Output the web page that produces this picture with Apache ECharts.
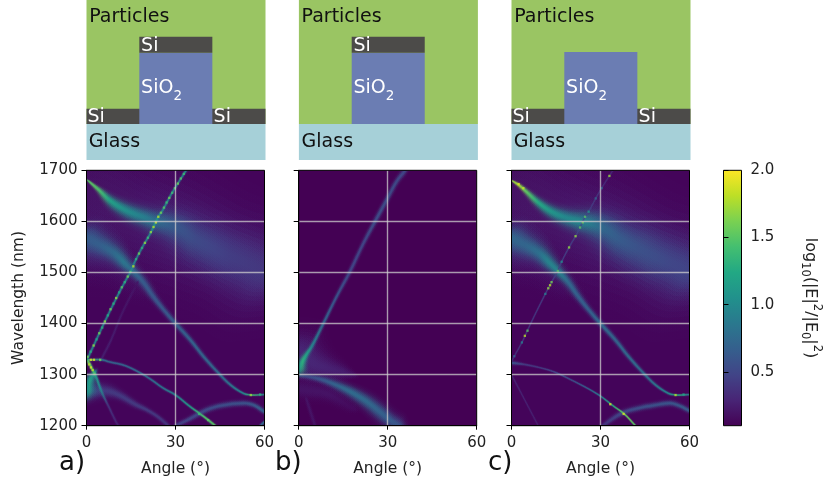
<!DOCTYPE html>
<html><head><meta charset="utf-8">
<script src="https://cdn.jsdelivr.net/npm/echarts@6/dist/echarts.min.js"></script>
<style>html,body{margin:0;padding:0;background:#fff}#c{width:830px;height:488px}</style>
</head><body><div id="c"></div>
<script>
// Read-off bands: [angle deg, wavelength nm, band width nm, log10 enhancement]
const a_hazeUp=[[0,1645,170,0.2],[15,1612,150,0.22],[30,1580,140,0.27],[45,1540,130,0.3],[60,1500,130,0.3]];
const a_hazeLow=[[0,1560,80,0.28],[12,1518,55,0.22],[20,1470,35,0.16]];
const a_upper=[[0.9,1678,4,1.5],[2.5,1670,6,1.5],[4.3,1661,9,1.45],[7.7,1642,16,1.2],[11,1629,21,1.1],[15.6,1616,26,1.0],[20,1607,30,0.9],[23,1601,35,0.8],[27,1596,42,0.7],[31.5,1586,50,0.6],[37,1564,60,0.52],[43,1547,66,0.48],[48.5,1531,70,0.44],[54,1518,70,0.42],[60,1502,70,0.4]];
const a_second=[[0,1567,42,0.65],[4.5,1554,38,0.68],[9,1539,30,0.75],[12.4,1521,24,0.85],[15.8,1502,18,0.75],[19,1482,15,0.65],[22.5,1453,12,0.62],[26,1427,10,0.62],[30,1400,9,0.68],[35,1368,8,0.7],[39.5,1335,7,0.72],[44,1306,6,0.75],[48.5,1280,5,0.85],[53,1263,4,1.0],[56,1260,3,1.4],[60,1261,3,0.9]];
const a_diag=[[0,1327,4,0.95],[2.9,1363,4,0.95],[6.2,1404,4,0.95],[10.8,1458,4,0.95],[12.9,1481,4,0.95],[15,1503,4,0.95],[16.3,1521,4,0.95],[18.8,1549,4,0.95],[21,1571,4,0.95],[22.5,1588,4,1.05],[24.2,1609,4,1.05],[25.4,1619,4,0.95],[27.8,1645,4,0.95],[29.8,1665,4,0.95],[32.4,1689,4,0.95],[33.6,1700,4,0.95]];
const a_arc=[[0,1329,3,1.5],[5,1329,4,0.85],[7.7,1325,4,0.72],[13.3,1317,4,0.72],[20,1297,4,0.78],[26,1273,4,0.85],[30,1260,4,0.95],[35,1237,4,1.15],[39.5,1218,4,1.45],[43.4,1200,4,1.5]];
const a_steep=[[0.5,1327,5,1.6],[2.1,1309,5,1.45],[3.2,1296,5,1.1],[4.9,1270,5,0.95],[7.1,1242,4,0.4],[10.2,1205,4,0.28],[10.8,1200,4,0.26]];
const a_spot=[[0,1268,26,0.95],[0.95,1286,22,1.2],[2.6,1302,10,1.0]];
const a_faint=[[4.9,1329,4,0.25],[8.3,1368,4,0.25],[12,1420,4,0.22],[17,1478,4,0.2]];
const a_lowArc=[[0,1268,26,0.42],[6.8,1268,20,0.42],[11,1260,14,0.42],[16.7,1241,10,0.42],[20,1232,8,0.42],[23.7,1219,7,0.4],[27.6,1200,6,0.38]];
const a_rightArc=[[30,1200,6,0.45],[35,1214,8,0.5],[40.5,1231,9,0.52],[46,1240,9,0.55],[53,1244,9,0.58],[56.5,1240,8,0.62],[60,1227,7,0.7]];
const a_corner=[[58.6,1200,4,0.75],[60,1208,4,0.8]];
const a_dots=[[0.4,1335,1.6],[1.4,1345,1.3],[2.4,1357,1.7],[3.4,1369,1.2],[4.3,1381,1.6],[5.3,1392,1.3],[6.2,1404,1.7],[7.2,1416,1.25],[8.1,1428,1.6],[9.1,1439,1.3],[10,1450,1.7],[11,1461,1.2],[11.9,1471,1.5],[12.9,1481,1.3],[13.9,1492,1.6],[14.8,1501,1.5],[15.8,1512,1.8],[16.7,1526,1.3],[17.7,1537,1.6],[18.7,1548,1.3],[19.7,1558,1.7],[20.7,1568,1.4],[21.7,1579,1.7],[22.6,1589,1.8],[23.4,1598,1.9],[24.2,1609,1.8],[25.1,1617,1.6],[26.1,1627,1.5],[27,1637,1.4],[27.9,1646,1.6],[28.9,1656,1.4],[29.8,1665,1.5],[30.8,1674,1.6],[31.8,1684,1.5],[32.8,1693,1.4],[1.5,1329,1.9],[2.5,1329,1.9],[4.6,1329,1.6],[55.4,1260,1.7],[58.5,1261,1.3],[0.9,1320,1.8],[1.5,1314,1.9],[2.1,1309,1.8],[2.7,1302,1.5],[41,1211,1.5],[38,1223,1.4]];

const b_main=[[0,1312,22,1.1],[1.3,1326,14,1.3],[2.5,1338,9,1.2],[4.4,1355,7,0.95],[8.3,1400,6,0.72],[12.8,1453,6,0.6],[17.3,1502,7,0.5],[21.8,1557,7,0.5],[26.3,1606,8,0.55],[30.2,1648,8,0.55],[33,1678,8,0.52],[35.8,1699,8,0.5]];
const b_halo=[[0,1345,70,0.3],[5,1322,55,0.3],[10,1312,38,0.28],[15,1305,22,0.25],[18,1300,12,0.2]];
const b_lower=[[0,1299,7,0.45],[6,1293,10,0.58],[11.7,1282,14,0.7],[17.3,1267,18,0.78],[23,1247,22,0.75],[27.4,1227,24,0.7],[30.8,1211,24,0.65],[33.6,1200,24,0.6]];
const b_under=[[0,1272,26,0.2],[10,1262,22,0.2],[18,1235,14,0.15]];
const b_faint=[[2.7,1250,5,0.2],[5.5,1200,5,0.2]];

const c_hazeUp=[[0,1645,170,0.2],[15,1612,150,0.22],[30,1580,140,0.27],[45,1540,130,0.3],[60,1500,130,0.3]];
const c_hazeLow=[[0,1560,80,0.28],[12,1518,55,0.22],[20,1470,35,0.16]];
const c_upper=[[0.9,1677,4,1.7],[2.5,1671,6,1.75],[4.5,1661,8,1.55],[9,1637,14,1.25],[13.5,1619,20,1.1],[18,1608,26,1.0],[22.5,1601,32,1.0],[27,1596,40,0.88],[31.5,1586,48,0.72],[37,1564,58,0.64],[43,1547,66,0.58],[48.5,1531,70,0.54],[54,1518,70,0.5],[60,1502,70,0.48]];
const c_second=[[0,1567,42,0.72],[4.5,1554,38,0.72],[9,1539,30,0.8],[12.4,1521,24,0.95],[15.8,1502,18,0.95],[19,1482,15,0.75],[22.5,1453,12,0.68],[26,1427,10,0.68],[30,1400,9,0.75],[35,1368,8,0.72],[39.5,1335,7,0.75],[44,1306,6,0.78],[48.5,1280,5,0.85],[53,1263,4,1.0],[56,1260,3,1.3],[60,1261,3,0.9]];
const c_diag=[[0,1325,2.5,0.35],[0.95,1336,2.5,0.35],[3.5,1363,2.5,0.4],[6.8,1404,2.5,0.4],[11.4,1458,2.5,0.42],[13.5,1481,2.5,0.42],[15.6,1503,2.5,0.45],[16.9,1521,2.5,0.45],[19.4,1549,2.5,0.45],[21.6,1571,2.5,0.45],[23.1,1588,2.5,0.5],[24.8,1609,2.5,0.5],[26,1619,2.5,0.45],[28.4,1645,2.5,0.4],[30.4,1665,2.5,0.35],[33,1689,2.5,0.3],[34.2,1700,2.5,0.3]];
const c_arc=[[0,1323,6,0.6],[4.3,1320,4,0.42],[10,1313,3,0.42],[15,1304,3,0.5],[20,1290,3,0.55],[26,1272,3,0.7],[30,1258,3,0.9],[34,1240,3,1.25],[38,1223,3,1.55],[41.8,1200,3,1.5]];
const c_faint=[[0,1300,2.5,0.28],[4.5,1250,2.5,0.28],[9,1200,2.5,0.25]];
const c_rightArc=[[30,1197,6,0.38],[37,1224,9,0.5],[42.6,1234,9,0.55],[48,1240,9,0.58],[53.6,1244,9,0.6],[57,1238,8,0.62],[60,1229,7,0.65]];
const c_dots=[[0.95,1336,0.7],[3.5,1363,0.9],[4.5,1376,1.8],[5.4,1386,1.5],[11.4,1458,0.9],[12.4,1469,1.7],[13,1475,1.8],[13.5,1481,1.6],[15.6,1503,1.5],[16.9,1521,1.0],[19.4,1549,1.7],[21.6,1571,1.7],[23.1,1588,1.5],[24,1598,1.6],[24.8,1609,1.5],[26,1619,1.1],[28.4,1645,0.7],[30.4,1665,0.7],[33,1689,1.7],[55.3,1260,1.8],[58,1261,1.2],[37.8,1223,1.9],[33.3,1242,1.9],[2.4,1673,1.9],[4,1665,1.85]];

const angleTicks=[0,30,60];
const wavelengthTicks=[1200,1300,1400,1500,1600,1700];
const colorTicks=[0.5,1.0,1.5,2.0];
const panelLetters=['a)','b)','c)'];

// Sample structures: [x0, x1, y0, y1, material] in a 0-100 drawing space
const stackA=[[0,100,22.5,100,'particles'],[0,100,0,22.5,'glass'],[0,100,22.5,32,'si'],[29.5,70.3,22.5,67,'oxide'],[29.5,70.3,67,77,'si']];
const stackB=[[0,100,22.5,100,'particles'],[0,100,0,22.5,'glass'],[29.5,70.3,22.5,67,'oxide'],[29.5,70.3,67,77,'si']];
const stackC=[[0,100,22.5,100,'particles'],[0,100,0,22.5,'glass'],[0,100,22.5,32,'si'],[29.5,70.3,22.5,67.5,'oxide']];
const SIO2='{n|SiO}{s|2}';
const labelsA=[['Particles',1.5,89.5,'k'],['Glass',1.2,11,'k'],['Si',30.5,71.5,'w'],[SIO2,30.5,45,'w'],['Si',0.5,27,'w'],['Si',71,27,'w']];
const labelsB=[['Particles',1.5,89.5,'k'],['Glass',1.5,11,'k'],['Si',30.5,71.5,'w'],[SIO2,30.5,45,'w']];
const labelsC=[['Particles',1.5,89.5,'k'],['Glass',1.2,11,'k'],[SIO2,30.5,45,'w'],['Si',0.5,27,'w'],['Si',71,27,'w']];

const viridisStops=['#440154','#482475','#414487','#355f8d','#2a788e','#21918c','#22a884','#44bf70','#7ad151','#bddf26','#fde725'];
const vMin=0.1,vMax=2;
const FONT='"DejaVu Sans"';
const materials={particles:'#9ac563',glass:'#a6d0d8',oxide:'#6b7db3',si:'#4c4b49'};

function hexRgb(h){return [1,3,5].map(i=>parseInt(h.slice(i,i+2),16));}
function viridis(v){
  let t=Math.max(0,Math.min(1,(v-vMin)/(vMax-vMin)))*(viridisStops.length-1);
  const i=Math.min(Math.floor(t),viridisStops.length-2),f=t-i;
  const a=hexRgb(viridisStops[i]),b=hexRgb(viridisStops[i+1]);
  return a.map((c,k)=>Math.round(c+(b[k]-c)*f));
}
function rgba(v,al){const c=viridis(v);return `rgba(${c[0]},${c[1]},${c[2]},${al})`;}

// soft edge: nested ribbons whose composite follows a bell profile
const layerScales=[2.3,2.0,1.75,1.5,1.3,1.1,0.95,0.8,0.65,0.5,0.35,0.2];
const layerAlpha=(function(){
  let prev=0;return layerScales.map(s=>{
    const g=Math.pow(2,-s*s);const a=1-(1-g)/(1-prev);prev=g;return a;});
})();

function bandSeries(band,axisIndex,z){
  return {type:'custom',xAxisIndex:axisIndex,yAxisIndex:axisIndex,z:z||2,clip:true,silent:true,
    data:band,encode:{x:0,y:1},
    renderItem:function(params,api){
      if(params.dataIndex!==0) return null;
      const p0=api.coord([0,1200]),p1=api.coord([0,1300]);
      const pxPerNm=Math.abs(p1[1]-p0[1])/100;
      const pts=band.map(b=>api.coord([b[0],b[1]]));
      const n=pts.length;
      const norms=pts.map((p,i)=>{
        const a=pts[Math.max(i-1,0)],b=pts[Math.min(i+1,n-1)];
        const dx=b[0]-a[0],dy=b[1]-a[1],l=Math.hypot(dx,dy)||1;
        return [-dy/l,dx/l];
      });
      const x0=pts[0][0],x1=pts[n-1][0];
      const grad=layerAlpha.map(al=>new echarts.graphic.LinearGradient(x0,0,x1,0,
        band.map((b,i)=>({offset:Math.max(0,Math.min(1,(pts[i][0]-x0)/(x1-x0))),color:rgba(b[3],al)})),true));
      const children=layerScales.map((s,k)=>{
        const up=[],dn=[];
        pts.forEach((p,i)=>{
          const h=band[i][2]*pxPerNm*s/2;
          up.push([p[0]+norms[i][0]*h,p[1]+norms[i][1]*h]);
          dn.push([p[0]-norms[i][0]*h,p[1]-norms[i][1]*h]);
        });
        // carry both ends a little past the last reading so edges stay clean
        const t0=[norms[0][1],-norms[0][0]],tn=[norms[n-1][1],-norms[n-1][0]];
        const e0=band[0][2]*pxPerNm*s/2+2,en=band[n-1][2]*pxPerNm*s/2+2;
        const poly=[[pts[0][0]-t0[0]*e0,pts[0][1]-t0[1]*e0]].concat(up,[[pts[n-1][0]+tn[0]*en,pts[n-1][1]+tn[1]*en]],dn.reverse());
        return {type:'polygon',shape:{points:poly,smooth:0.35},style:{fill:grad[k]},silent:true};
      });
      return {type:'group',children:children};
    }};
}
function dotSeries(dots,axisIndex){
  return {type:'scatter',xAxisIndex:axisIndex,yAxisIndex:axisIndex,z:4,silent:true,symbol:'rect',symbolSize:2.3,
    data:dots,encode:{x:0,y:1},itemStyle:{color:p=>rgba(p.value[2],1)},clip:true};
}
function stackSeries(stack,labels,axisIndex){
  return [{type:'custom',xAxisIndex:axisIndex,yAxisIndex:axisIndex,silent:true,clip:false,data:stack,
    encode:{x:[0,1],y:[2,3]},
    renderItem:function(p,api){
      const r=stack[p.dataIndex],a=api.coord([r[0],r[3]]),b=api.coord([r[1],r[2]]);
      return {type:'rect',shape:{x:a[0],y:a[1],width:b[0]-a[0],height:b[1]-a[1]},style:{fill:materials[r[4]]}};
    }},
  {type:'custom',xAxisIndex:axisIndex,yAxisIndex:axisIndex,silent:true,clip:false,z:3,data:labels.map(l=>[l[1],l[2]]),
    encode:{x:0,y:1},
    renderItem:function(p,api){
      const l=labels[p.dataIndex],c=api.coord([l[1],l[2]]);
      const fill=l[3]==='w'?'#ffffff':'#111111';
      return {type:'text',x:c[0],y:c[1],style:{text:l[0],fill:fill,font:'19px '+FONT,textAlign:'left',textVerticalAlign:'middle',
        rich:{n:{fontFamily:FONT,fontSize:19,fill:fill},s:{fontFamily:FONT,fontSize:13.5,fill:fill,verticalAlign:'bottom',lineHeight:30}}}};
    }}];
}

const grids=[],xAxes=[],yAxes=[],series=[];
const plotLefts=[86.5,298.7,511.5],plotTop=170.3,plotW=178,plotH=255.4;
const spine={show:true,onZero:false,lineStyle:{color:'#000',width:1}};
plotLefts.forEach((left,i)=>{
  grids.push({left:left,top:plotTop,width:plotW,height:plotH,show:true,backgroundColor:i===1?'#440154':'#44045a',borderWidth:0});
  xAxes.push({gridIndex:i,type:'value',min:0,max:60,interval:30,z:10,
    name:'Angle (°)',nameLocation:'middle',nameGap:35,nameTextStyle:{fontFamily:FONT,fontSize:15.5,color:'#222'},
    axisLine:spine,axisTick:{show:true,length:4,lineStyle:{color:'#000'}},
    axisLabel:{fontFamily:FONT,fontSize:15,color:'#222',margin:10,formatter:v=>angleTicks.includes(v)?String(v):''},
    splitLine:{show:true,showMinLine:false,showMaxLine:false,lineStyle:{color:'rgba(205,205,205,0.75)',width:1.4}}});
  yAxes.push({gridIndex:i,type:'value',min:1200,max:1700,interval:100,z:10,
    name:i===0?'Wavelength (nm)':'',nameLocation:'middle',nameGap:60,nameTextStyle:{fontFamily:FONT,fontSize:15.5,color:'#222'},
    axisLine:spine,axisTick:{show:true,length:5,lineStyle:{color:'#000'}},
    axisLabel:{show:i===0,fontFamily:FONT,fontSize:15,color:'#222',margin:9,formatter:v=>wavelengthTicks.includes(v)?String(v):''},
    splitLine:{show:true,showMinLine:false,showMaxLine:false,lineStyle:{color:'rgba(205,205,205,0.75)',width:1.4}}});
});
const bandSets=[
  [a_hazeUp,a_hazeLow,a_upper,a_second,a_lowArc,a_rightArc,a_corner,a_faint,a_spot,a_arc,a_steep,a_diag],
  [b_halo,b_under,b_faint,b_lower,b_main],
  [c_hazeUp,c_hazeLow,c_upper,c_second,c_rightArc,c_faint,c_arc,c_diag]];
const dotSets=[a_dots,null,c_dots];
bandSets.forEach((set,i)=>{set.forEach(b=>series.push(bandSeries(b,i)));if(dotSets[i])series.push(dotSeries(dotSets[i],i));});

// structure sketches
const stackLefts=[86.5,298.9,511.5];
[[stackA,labelsA],[stackB,labelsB],[stackC,labelsC]].forEach((s,i)=>{
  const g=grids.length;
  grids.push({left:stackLefts[i],top:0,width:179,height:160});
  xAxes.push({gridIndex:g,type:'value',min:0,max:100,show:false});
  yAxes.push({gridIndex:g,type:'value',min:0,max:100,show:false});
  series.push(...stackSeries(s[0],s[1],g));
});

// colour bar
const cb=grids.length;
grids.push({left:723.5,top:plotTop,width:18,height:plotH});
xAxes.push({gridIndex:cb,type:'value',min:0,max:1,show:false});
yAxes.push({gridIndex:cb,type:'value',position:'right',min:vMin,max:vMax,z:10,
  name:'{n|log}{s|10}{n|(|E|}{u|2}{n|/|E}{s|0}{n||}{u|2}{n|)}',nameLocation:'middle',nameRotate:-90,nameGap:57,
  nameTextStyle:{fontFamily:FONT,fontSize:16,color:'#222',
    rich:{n:{fontFamily:FONT,fontSize:16,color:'#222'},
      s:{fontFamily:FONT,fontSize:11.5,color:'#222',verticalAlign:'bottom',lineHeight:24},
      u:{fontFamily:FONT,fontSize:11.5,color:'#222',verticalAlign:'top',lineHeight:24}}},
  axisLine:{show:false},
  axisTick:{show:true,length:5,lineStyle:{color:'#000'},customValues:colorTicks},
  axisLabel:{fontFamily:FONT,fontSize:15,color:'#222',margin:9,customValues:colorTicks,formatter:v=>v.toFixed(1)},
  splitLine:{show:false}});
series.push({type:'custom',xAxisIndex:cb,yAxisIndex:cb,silent:true,clip:false,data:[[0,vMin,1,vMax]],
  encode:{x:[0,2],y:[1,3]},
  renderItem:function(p,api){
    const a=api.coord([0,vMax]),b=api.coord([1,vMin]);
    return {type:'rect',shape:{x:a[0],y:a[1],width:b[0]-a[0],height:b[1]-a[1]},
      style:{fill:new echarts.graphic.LinearGradient(0,1,0,0,viridisStops.map((c,i)=>({offset:i/(viridisStops.length-1),color:c}))),stroke:'#000',lineWidth:1}};
  }});

// frame so all four spines sit above the bands
plotLefts.forEach((l,i)=>{
  series.push({type:'custom',xAxisIndex:i,yAxisIndex:i,silent:true,clip:false,z:12,data:[[0,1200,60,1700]],encode:{x:[0,2],y:[1,3]},
    renderItem:function(p,api){
      const a=api.coord([0,1700]),b=api.coord([60,1200]);
      return {type:'rect',shape:{x:a[0],y:a[1],width:b[0]-a[0],height:b[1]-a[1]},style:{fill:'none',stroke:'#000',lineWidth:1}};
    }});
});

const chart=echarts.init(document.getElementById('c'),null,{renderer:'canvas'});
chart.setOption({animation:false,backgroundColor:'#fff',
  title:panelLetters.map((t,i)=>({text:t,left:[59,275,488][i],top:450,padding:0,textStyle:{fontFamily:FONT,fontSize:26,fontWeight:'normal',color:'#111'}})),
  grid:grids,xAxis:xAxes,yAxis:yAxes,series:series});
</script></body></html>
